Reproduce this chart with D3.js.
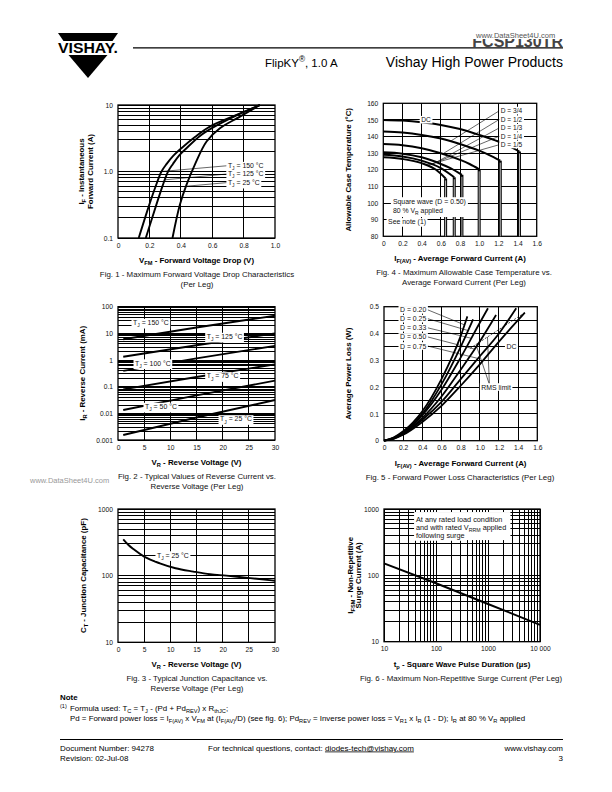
<!DOCTYPE html>
<html>
<head>
<meta charset="utf-8">
<script src="https://cdn.jsdelivr.net/npm/d3@7"></script>
<style>
  body { margin: 0; background: #fff; }
  svg { display: block; }
</style>
</head>
<body>
<svg id="page" width="612" height="792"></svg>
<script>
// ---------- data ----------

// Fig. 1 - forward voltage drop (V) vs instantaneous current (A), log y
const f1Temps = ["150", "125", "25"];
const f1V = [
  [0.132, 0.2, 0.24, 0.277, 0.31, 0.35, 0.404, 0.49, 0.585, 0.755, 0.904],
  [0.177, 0.245, 0.285, 0.319, 0.35, 0.39, 0.436, 0.52, 0.606, 0.755, 0.904],
  [0.347, 0.394, 0.436, 0.489, 0.564, 0.649, 0.777, 0.904]
];
const f1I = [
  [0.1, 0.32, 0.6, 1.0, 1.3, 1.7, 2.24, 3.3, 4.73, 7.08, 10],
  [0.1, 0.32, 0.62, 1.0, 1.3, 1.75, 2.24, 3.4, 4.6, 7.0, 10],
  [0.1, 0.316, 0.63, 1.26, 2.82, 4.47, 6.68, 10]
];
const f1LeaderI = [1.0, 0.75, 0.6];
const f1LabelAt = [[0.70, 1.22], [0.70, 0.917], [0.70, 0.68]];

// Fig. 2 - reverse current (mA) vs reverse voltage (V)
const f2Temps = ["150", "125", "100", "75", "50", "25"];
const f2V = [1, 15, 30];
const f2IR = [
  [6.0, 16.5, 46],
  [1.33, 3.6, 10],
  [0.39, 1.15, 3.4],
  [0.079, 0.23, 0.69],
  [0.0133, 0.047, 0.168],
  [0.00154, 0.007, 0.0316]
];
const f2LabelAt = [[2.87, 25], [16.95, 7.5], [3.25, 0.76], [16.95, 0.25], [5.16, 0.0178], [19.5, 0.0061]];

// Fig. 3 - junction capacitance (pF) vs reverse voltage (V)
const f3V = [1, 2, 3, 5, 8, 11, 14.4, 17.6, 20.7, 24, 27, 30];
const f3C = [350, 288, 248, 193, 153, 129, 115, 105, 100, 94, 89, 84];

// Fig. 4 - allowable case temperature (°C) vs average current (A)
const f4Names = ["DC", "D = 3/4", "D = 1/2", "D = 1/3", "D = 1/4", "D = 1/5"];
const f4I = [
  [0, 0.2, 0.4, 0.6, 0.8, 1.0, 1.2, 1.3, 1.42],
  [0, 0.2, 0.4, 0.6, 0.8, 1.0, 1.1, 1.22],
  [0, 0.2, 0.4, 0.6, 0.8, 0.9, 1.0],
  [0, 0.2, 0.4, 0.6, 0.7, 0.82],
  [0, 0.2, 0.4, 0.6, 0.74],
  [0, 0.2, 0.4, 0.55, 0.65]
];
const f4T = [
  [150, 149.6, 148.6, 147, 144.5, 141, 137, 134.5, 131],
  [143, 142.4, 141, 138.8, 135.5, 131.5, 129, 125.5],
  [135.5, 134.8, 133, 130, 126, 123.5, 120.3],
  [130.5, 129.7, 127.5, 123.5, 121, 117],
  [129, 128, 125.5, 121, 115.5],
  [127.5, 126.5, 124, 120, 114.8]
];
const f4LabelT = [150, 155.5, 150.3, 145.2, 140.2, 135.1];
const f4LeaderI = [0.7, 0.62, 0.55, 0.5, 0.45];

// Fig. 5 - average power loss (W) vs average current (A)
const f5Names = ["D = 0.20", "D = 0.25", "D = 0.33", "D = 0.50", "D = 0.75", "DC"];
const f5I = [
  [0, 0.1, 0.2, 0.4, 0.6, 0.8, 0.87],
  [0, 0.1, 0.2, 0.4, 0.6, 0.8, 0.93],
  [0, 0.1, 0.2, 0.4, 0.6, 0.8, 1.0, 1.085],
  [0, 0.1, 0.2, 0.4, 0.6, 0.8, 1.0, 1.17],
  [0, 0.1, 0.2, 0.4, 0.6, 0.8, 1.0, 1.2, 1.38],
  [0, 0.1, 0.2, 0.4, 0.6, 0.8, 1.0, 1.2, 1.47]
];
const f5P = [
  [0, 0.012, 0.035, 0.11, 0.23, 0.39, 0.464],
  [0, 0.011, 0.032, 0.1, 0.21, 0.35, 0.453],
  [0, 0.01, 0.03, 0.095, 0.19, 0.31, 0.44, 0.494],
  [0, 0.009, 0.027, 0.085, 0.165, 0.265, 0.37, 0.469],
  [0, 0.008, 0.025, 0.078, 0.145, 0.23, 0.315, 0.4, 0.494],
  [0, 0.007, 0.022, 0.07, 0.13, 0.205, 0.285, 0.37, 0.478]
];
const f5LabelP = [0.488, 0.455, 0.421, 0.387, 0.353];
const f5LeaderI = [0.84, 0.877, 0.911, 0.946, 0.981];
const f5RmsI = [0.9, 1.47];
const f5RmsP = [0.345, 0.478];

// Fig. 6 - non-repetitive surge current (A) vs pulse duration (µs)
const f6T = [10, 100, 1000, 10000];
const f6I = [152, 76, 37, 18];

// ---------- helpers ----------
const FONT = "Liberation Sans, Arial, sans-serif";
const svg = d3.select("#page").attr("font-family", FONT);
const LBL = 6.9;   // in-plot labels
const TTL = 7.9;   // axis titles, captions, footer

function logGrid(lo, hi) {
  const out = [];
  for (let e = Math.round(Math.log10(lo)); e < Math.round(Math.log10(hi)); e++) {
    for (let m = 1; m < 10; m++) out.push(m * Math.pow(10, e));
  }
  out.push(hi);
  return out;
}

function interp(xs, ys, xv) {
  for (let i = 1; i < xs.length; i++) {
    if (xv <= xs[i]) {
      const f = (xv - xs[i - 1]) / (xs[i] - xs[i - 1]);
      return ys[i - 1] + f * (ys[i] - ys[i - 1]);
    }
  }
  return ys[ys.length - 1];
}

// text with sub/superscripts: parts are strings or [text, "sub"|"sup"]
function rich(sel, parts, size) {
  let back = 0;
  parts.forEach(pt => {
    const txt = typeof pt === "string" ? pt : pt[0];
    const kind = typeof pt === "string" ? null : pt[1];
    const sh = kind === "sub" ? size * 0.3 : kind === "sup" ? -size * 0.4 : 0;
    const ts = sel.append("tspan").text(txt);
    if (sh - back !== 0) ts.attr("dy", sh - back);
    if (kind) ts.attr("font-size", size * 0.72);
    back = sh;
  });
  return sel;
}

// label sitting on a white patch that hides the grid underneath
function boxLabel(g, px, py, parts, size, anchor) {
  const lg = g.append("g");
  const t = lg.append("text").attr("x", px).attr("y", py + size * 0.35)
    .attr("font-size", size).attr("text-anchor", anchor || "start").attr("fill", "#111");
  rich(t, parts, size);
  const bb = t.node().getBBox();
  lg.insert("rect", "text")
    .attr("x", bb.x - 1.5).attr("y", bb.y - 0.3)
    .attr("width", bb.width + 3).attr("height", bb.height + 0.6)
    .attr("fill", "#fff");
  bb.node = lg.node();
  return bb;
}

function panel(p) {
  const [l, r, t, b] = p.box;
  const g = svg.append("g");
  const x = (p.xlog ? d3.scaleLog() : d3.scaleLinear()).domain(p.xdom).range([l, r]);
  const y = (p.ylog ? d3.scaleLog() : d3.scaleLinear()).domain(p.ydom).range([b, t]);

  g.append("g").attr("shape-rendering", "crispEdges").selectAll("line").data(p.xgrid).join("line")
    .attr("x1", d => x(d)).attr("x2", d => x(d)).attr("y1", t).attr("y2", b)
    .attr("stroke", "#000").attr("stroke-width", 1);
  g.append("g").attr("shape-rendering", "crispEdges").selectAll("line").data(p.ygrid).join("line")
    .attr("y1", d => y(d)).attr("y2", d => y(d)).attr("x1", l).attr("x2", r)
    .attr("stroke", "#000").attr("stroke-width", 1);
  g.append("rect").attr("x", l).attr("y", t).attr("width", r - l).attr("height", b - t)
    .attr("fill", "none").attr("stroke", "#000").attr("stroke-width", 1.3);

  const ax = g.append("g").attr("transform", `translate(0,${b})`)
    .call(d3.axisBottom(x).tickValues(p.xticks).tickFormat(p.xfmt).tickSize(0).tickPadding(5));
  const ay = g.append("g").attr("transform", `translate(${l},0)`)
    .call(d3.axisLeft(y).tickValues(p.yticks).tickFormat(p.yfmt).tickSize(0).tickPadding(5));
  [ax, ay].forEach(a => {
    a.select(".domain").remove();
    a.selectAll("text").attr("font-size", 6.7).attr("fill", "#111").attr("font-family", FONT);
  });

  const xt = g.append("text").attr("x", (l + r) / 2).attr("y", b + 24.8)
    .attr("text-anchor", "middle").attr("font-size", TTL).attr("font-weight", "bold");
  rich(xt, p.xtitle, TTL);
  p.ytitle.forEach((line, i) => {
    const yt = g.append("text")
      .attr("transform", `translate(${p.ytx[i] + TTL * 0.36},${(t + b) / 2}) rotate(-90)`)
      .attr("text-anchor", "middle").attr("font-size", TTL).attr("font-weight", "bold");
    rich(yt, line, TTL);
  });
  p.caption.forEach((line, i) => {
    g.append("text").attr("x", p.capx).attr("y", b + 38.8 + i * 10)
      .attr("text-anchor", "middle").attr("font-size", TTL).attr("fill", "#111").text(line);
  });
  return { g, x, y };
}

const dec1 = d => d === 0 ? "0" : d.toFixed(1);
const zip = (a, b) => a.map((v, i) => [v, b[i]]);

// ---------- Fig. 1 ----------
{
  const { g, x, y } = panel({
    box: [118, 275, 105, 238], xdom: [0, 1], ydom: [0.1, 10], ylog: true,
    xgrid: [0.2, 0.4, 0.6, 0.8], ygrid: logGrid(0.1, 10),
    xticks: [0, 0.2, 0.4, 0.6, 0.8, 1.0], xfmt: dec1,
    yticks: [0.1, 1, 10], yfmt: d => d === 10 ? "10" : d.toFixed(1),
    xtitle: ["V", ["FM", "sub"], " - Forward Voltage Drop (V)"],
    ytitle: [["I", ["F", "sub"], " - Instantaneous"], ["Forward Current (A)"]], ytx: [81, 90],
    caption: ["Fig. 1 - Maximum Forward Voltage Drop Characteristics", "(Per Leg)"], capx: 197
  });
  const line = d3.line().x(d => x(d[0])).y(d => y(d[1])).curve(d3.curveCatmullRom.alpha(0.5));
  f1Temps.forEach((tj, k) => {
    g.append("path").attr("d", line(zip(f1V[k], f1I[k])))
      .attr("fill", "none").attr("stroke", "#000").attr("stroke-width", 1.9);
    const vAt = interp(f1I[k].map(Math.log10), f1V[k], Math.log10(f1LeaderI[k]));
    const [lv, li] = f1LabelAt[k];
    g.append("line").attr("x1", x(lv) - 1).attr("y1", y(li)).attr("x2", x(vAt)).attr("y2", y(f1LeaderI[k]))
      .attr("stroke", "#000").attr("stroke-width", 0.6);
    boxLabel(g, x(lv), y(li), ["T", ["J", "sub"], " = " + tj + " °C"], LBL);
  });
}

// ---------- Fig. 2 ----------
{
  const { g, x, y } = panel({
    box: [118, 275, 306.7, 440], xdom: [0, 30], ydom: [0.001, 100], ylog: true,
    xgrid: [5, 10, 15, 20, 25], ygrid: logGrid(0.001, 100),
    xticks: [0, 5, 10, 15, 20, 25, 30], xfmt: d => String(d),
    yticks: [0.001, 0.01, 0.1, 1, 10, 100], yfmt: d => String(d),
    xtitle: ["V", ["R", "sub"], " - Reverse Voltage (V)"],
    ytitle: [["I", ["R", "sub"], " - Reverse Current (mA)"]], ytx: [82],
    caption: ["Fig. 2 - Typical Values of Reverse Current vs.", "Reverse Voltage (Per Leg)"], capx: 197
  });
  const line = d3.line().x(d => x(d[0])).y(d => y(d[1]));
  f2Temps.forEach((tj, k) => {
    g.append("path").attr("d", line(zip(f2V, f2IR[k])))
      .attr("fill", "none").attr("stroke", "#000").attr("stroke-width", 1.9);
  });
  f2Temps.forEach((tj, k) => {
    const [lv, li] = f2LabelAt[k];
    boxLabel(g, x(lv), y(li), ["T", ["J", "sub"], " = " + tj + " °C"], LBL);
  });
}

// ---------- Fig. 3 ----------
{
  const { g, x, y } = panel({
    box: [118, 275, 509, 642.3], xdom: [0, 30], ydom: [10, 1000], ylog: true,
    xgrid: [5, 10, 15, 20, 25], ygrid: logGrid(10, 1000),
    xticks: [0, 5, 10, 15, 20, 25, 30], xfmt: d => String(d),
    yticks: [10, 100, 1000], yfmt: d => String(d),
    xtitle: ["V", ["R", "sub"], " - Reverse Voltage (V)"],
    ytitle: [["C", ["T", "sub"], " - Junction Capacitance (pF)"]], ytx: [83],
    caption: ["Fig. 3 - Typical Junction Capacitance vs.", "Reverse Voltage (Per Leg)"], capx: 197
  });
  const line = d3.line().x(d => x(d[0])).y(d => y(d[1])).curve(d3.curveMonotoneX);
  g.append("path").attr("d", line(zip(f3V, f3C)))
    .attr("fill", "none").attr("stroke", "#000").attr("stroke-width", 1.9);
  boxLabel(g, x(7.45), y(203), ["T", ["J", "sub"], " = 25 °C"], LBL);
}

// ---------- Fig. 4 ----------
{
  const { g, x, y } = panel({
    box: [383.3, 536.7, 103.3, 236.3], xdom: [0, 1.6], ydom: [80, 160],
    xgrid: [0.2, 0.4, 0.6, 0.8, 1.0, 1.2, 1.4], ygrid: [90, 100, 110, 120, 130, 140, 150],
    xticks: [0, 0.2, 0.4, 0.6, 0.8, 1.0, 1.2, 1.4, 1.6], xfmt: dec1,
    yticks: [80, 90, 100, 110, 120, 130, 140, 150, 160], yfmt: d => String(d),
    xtitle: ["I", ["F(AV)", "sub"], " - Average Forward Current (A)"],
    ytitle: [["Allowable Case Temperature (°C)"]], ytx: [348],
    caption: ["Fig. 4 - Maximum Allowable Case Temperature vs.", "Average Forward Current (Per Leg)"], capx: 464
  });
  const line = d3.line().x(d => x(d[0])).y(d => y(d[1])).curve(d3.curveMonotoneX);
  f4Names.forEach((nm, k) => {
    const iEnd = f4I[k][f4I[k].length - 1];
    const tEnd = f4T[k][f4T[k].length - 1];
    g.append("line").attr("x1", x(iEnd)).attr("x2", x(iEnd)).attr("y1", y(tEnd)).attr("y2", y(80))
      .attr("stroke", "#000").attr("stroke-width", 3);
    g.append("line").attr("x1", x(iEnd)).attr("x2", x(iEnd)).attr("y1", y(tEnd) + 2).attr("y2", y(80))
      .attr("stroke", "#bbb").attr("stroke-width", 1);
    g.append("path").attr("d", line(zip(f4I[k], f4T[k])))
      .attr("fill", "none").attr("stroke", "#000").attr("stroke-width", 2);
  });
  boxLabel(g, x(0.445), y(f4LabelT[0]), [f4Names[0]], 6.6, "middle");
  f4Names.slice(1).forEach((nm, j) => {
    const k = j + 1;
    const tAt = interp(f4I[k], f4T[k], f4LeaderI[j]);
    g.append("line").attr("x1", x(1.21)).attr("y1", y(f4LabelT[k]))
      .attr("x2", x(f4LeaderI[j])).attr("y2", y(tAt))
      .attr("stroke", "#000").attr("stroke-width", 0.6);
    boxLabel(g, x(1.225), y(f4LabelT[k]), [nm], 6.6);
  });
  const n1 = boxLabel(g, x(0.1), y(100.75), ["Square wave (D = 0.50)"], LBL);
  const n2 = boxLabel(g, x(0.1), y(95.5), ["80 % V", ["R", "sub"], " applied"], LBL);
  g.insert("rect", () => n1.node).attr("x", n1.x - 2).attr("y", n1.y - 1)
    .attr("width", n1.width + 4).attr("height", n2.y + n2.height - n1.y + 2).attr("fill", "#fff");
  boxLabel(g, x(0.05), y(88.6), ["See note (1)"], LBL);
}

// ---------- Fig. 5 ----------
{
  const { g, x, y } = panel({
    box: [384, 537.3, 306.7, 440.7], xdom: [0, 1.6], ydom: [0, 0.5],
    xgrid: [0.2, 0.4, 0.6, 0.8, 1.0, 1.2, 1.4],
    ygrid: [0.05, 0.1, 0.15, 0.2, 0.25, 0.3, 0.35, 0.4, 0.45],
    xticks: [0, 0.2, 0.4, 0.6, 0.8, 1.0, 1.2, 1.4, 1.6], xfmt: dec1,
    yticks: [0, 0.1, 0.2, 0.3, 0.4, 0.5], yfmt: dec1,
    xtitle: ["I", ["F(AV)", "sub"], " - Average Forward Current (A)"],
    ytitle: [["Average Power Loss (W)"]], ytx: [348],
    caption: ["Fig. 5 - Forward Power Loss Characteristics (Per Leg)"], capx: 460
  });
  const line = d3.line().x(d => x(d[0])).y(d => y(d[1])).curve(d3.curveMonotoneX);
  f5Names.forEach((nm, k) => {
    g.append("path").attr("d", line(zip(f5I[k], f5P[k])))
      .attr("fill", "none").attr("stroke", "#000").attr("stroke-width", 1.8);
  });
  g.append("line").attr("x1", x(f5RmsI[0])).attr("y1", y(f5RmsP[0]))
    .attr("x2", x(f5RmsI[1])).attr("y2", y(f5RmsP[1]))
    .attr("stroke", "#000").attr("stroke-width", 0.7).attr("stroke-dasharray", "2,1.5");
  f5Names.slice(0, 5).forEach((nm, k) => {
    const pAt = interp(f5I[k], f5P[k], f5LeaderI[k]);
    const bb = boxLabel(g, x(0.167), y(f5LabelP[k]), [nm], LBL);
    g.append("line").attr("x1", bb.x + bb.width + 1.5).attr("y1", y(f5LabelP[k]))
      .attr("x2", x(f5LeaderI[k])).attr("y2", y(pAt))
      .attr("stroke", "#000").attr("stroke-width", 0.6);
  });
  boxLabel(g, x(1.33), y(0.35), ["DC"], LBL, "middle");
  [0.96, 1.08].forEach(iv => {
    g.append("line").attr("x1", x(1.1)).attr("y1", y(0.21))
      .attr("x2", x(iv)).attr("y2", y(interp(f5RmsI, f5RmsP, iv)))
      .attr("stroke", "#000").attr("stroke-width", 0.6);
  });
  boxLabel(g, x(1.17), y(0.2), ["RMS limit"], LBL, "middle");
}

// ---------- Fig. 6 ----------
{
  const { g, x, y } = panel({
    box: [384, 540, 509, 641.7], xdom: [10, 10000], ydom: [10, 1000], xlog: true, ylog: true,
    xgrid: logGrid(10, 10000), ygrid: logGrid(10, 1000),
    xticks: [10, 100, 1000, 10000], xfmt: d => d === 10000 ? "10 000" : String(d),
    yticks: [10, 100, 1000], yfmt: d => String(d),
    xtitle: ["t", ["p", "sub"], " - Square Wave Pulse Duration (µs)"],
    ytitle: [["I", ["FSM", "sub"], " - Non-Repetitive"], ["Surge Current (A)"]], ytx: [350, 358.5],
    caption: ["Fig. 6 - Maximum Non-Repetitive Surge Current (Per Leg)"], capx: 461
  });
  const line = d3.line().x(d => x(d[0])).y(d => y(d[1]));
  g.append("path").attr("d", line(zip(f6T, f6I)))
    .attr("fill", "none").attr("stroke", "#000").attr("stroke-width", 1.9);
  g.append("rect").attr("x", x(38)).attr("y", y(900)).attr("width", x(2700) - x(38))
    .attr("height", y(340) - y(900)).attr("fill", "#fff");
  boxLabel(g, x(41.2), y(707), ["At any rated load condition"], 7.3);
  boxLabel(g, x(41.2), y(527), ["and with rated V", ["RRM", "sub"], " applied"], 7.3);
  boxLabel(g, x(41.2), y(393), ["following surge"], 7.3);
}

// ---------- header ----------
svg.append("path").attr("d", "M58,33 L118,33 L112.5,41 L63.5,41 Z").attr("fill", "#000");
svg.append("path").attr("d", "M68.5,55 L107.5,55 L88,78 Z").attr("fill", "#000");
svg.append("text").attr("x", 58).attr("y", 53).attr("font-size", 14).attr("font-weight", "bold")
  .attr("textLength", 60).attr("lengthAdjust", "spacingAndGlyphs").text("VISHAY.");

// part number, its top half hidden under the watermark strip as in the scan
svg.append("text").attr("x", 563).attr("y", 46.5).attr("text-anchor", "end")
  .attr("font-size", 16).attr("font-weight", "bold").attr("fill", "#444").text("FCSP130TR");
svg.append("rect").attr("x", 468).attr("y", 25).attr("width", 110).attr("height", 14).attr("fill", "#fff");
svg.append("text").attr("x", 476).attr("y", 37.5).attr("font-size", 7.5).attr("fill", "#555")
  .text("www.DataSheet4U.com");
svg.append("line").attr("x1", 133).attr("x2", 563).attr("y1", 47.8).attr("y2", 47.8)
  .attr("stroke", "#000").attr("stroke-width", 1.2);
rich(svg.append("text").attr("x", 265).attr("y", 66.5).attr("font-size", 11.5),
  ["FlipKY", ["®", "sup"], ", 1.0 A"], 11.5);
svg.append("text").attr("x", 563).attr("y", 67).attr("text-anchor", "end").attr("font-size", 14)
  .text("Vishay High Power Products");

svg.append("text").attr("x", 30).attr("y", 482.5).attr("font-size", 7.5).attr("fill", "#999")
  .text("www.DataSheet4U.com");

// ---------- footer ----------
svg.append("text").attr("x", 60).attr("y", 700).attr("font-size", TTL).attr("font-weight", "bold").text("Note");
svg.append("text").attr("x", 60).attr("y", 707.5).attr("font-size", 5.5).text("(1)");
rich(svg.append("text").attr("x", 70).attr("y", 710.5).attr("font-size", TTL),
  ["Formula used: T", ["C", "sub"], " = T", ["J", "sub"], " - (Pd + Pd", ["REV", "sub"], ") x R", ["thJC", "sub"], ";"], TTL);
rich(svg.append("text").attr("x", 70).attr("y", 720.5).attr("font-size", TTL),
  ["Pd = Forward power loss = I", ["F(AV)", "sub"], " x V", ["FM", "sub"], " at (I", ["F(AV)", "sub"],
   "/D) (see fig. 6); Pd", ["REV", "sub"], " = Inverse power loss = V", ["R1", "sub"], " x I", ["R", "sub"],
   " (1 - D); I", ["R", "sub"], " at 80 % V", ["R", "sub"], " applied"], TTL);
svg.append("line").attr("x1", 60).attr("x2", 563).attr("y1", 739.5).attr("y2", 739.5)
  .attr("stroke", "#000").attr("stroke-width", 1.2);
svg.append("text").attr("x", 60).attr("y", 750.5).attr("font-size", 8).text("Document Number: 94278");
svg.append("text").attr("x", 60).attr("y", 760.5).attr("font-size", 8).text("Revision: 02-Jul-08");
const contact = svg.append("text").attr("x", 208).attr("y", 750.5).attr("font-size", 8);
contact.append("tspan").text("For technical questions, contact: ");
contact.append("tspan").attr("text-decoration", "underline").text("diodes-tech@vishay.com");
svg.append("text").attr("x", 563).attr("y", 750.5).attr("text-anchor", "end").attr("font-size", 8).text("www.vishay.com");
svg.append("text").attr("x", 563).attr("y", 760.5).attr("text-anchor", "end").attr("font-size", 8).text("3");
</script>
</body>
</html>
